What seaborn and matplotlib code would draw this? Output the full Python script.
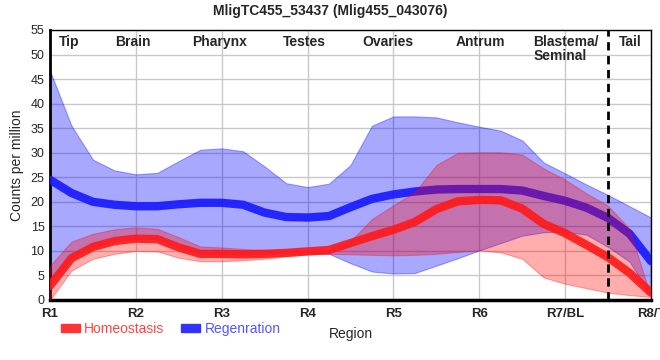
"""
Expression profile of MligTC455_53437 along the body regions,
homeostasis vs regeneration, mean line with min/max band.
"""

import matplotlib
matplotlib.use("Agg")
import matplotlib.pyplot as plt
import matplotlib.patches as mpatches
import numpy as np
import pandas as pd
import seaborn as sns

# Positions along the body (R1..R8 in quarter steps)
positions = [1.0, 1.25, 1.5, 1.75, 2.0, 2.25, 2.5, 2.75, 3.0, 3.25, 3.5, 3.75,
             4.0, 4.25, 4.5, 4.75, 5.0, 5.25, 5.5, 5.75, 6.0, 6.25, 6.5, 6.75,
             7.0, 7.25, 7.5, 7.75, 8.0]

homeo_mean = [2.9, 8.5, 10.8, 12.0, 12.5, 12.4, 10.7, 9.4, 9.4, 9.3, 9.4, 9.6,
              9.9, 10.2, 11.6, 13.0, 14.3, 15.9, 18.5, 20.1, 20.4, 20.3, 18.6, 15.5,
              13.6, 11.2, 8.7, 5.5, 1.5]
homeo_upper = [7.0, 11.9, 13.5, 14.4, 14.8, 14.5, 12.8, 10.9, 10.7, 10.4, 10.2, 10.1,
               10.1, 10.2, 12.0, 16.5, 19.3, 22.0, 27.5, 30.0, 30.1, 30.1, 29.6, 26.8,
               24.5, 21.7, 19.2, 14.5, 0.5]
homeo_lower = [0.0, 6.0, 8.4, 9.4, 10.0, 9.9, 8.6, 7.9, 7.9, 8.1, 8.4, 8.9,
               9.3, 9.4, 9.3, 9.2, 9.1, 9.2, 9.4, 9.8, 10.1, 9.7, 8.4, 4.6,
               3.3, 2.4, 1.5, 1.0, 0.6]

regen_mean = [24.5, 21.8, 20.0, 19.4, 19.1, 19.1, 19.5, 19.8, 19.8, 19.4, 17.8, 16.9,
              16.8, 17.1, 18.9, 20.6, 21.5, 22.1, 22.5, 22.6, 22.6, 22.6, 22.3, 21.2,
              20.2, 18.8, 16.7, 13.5, 7.9]
regen_upper = [46.7, 35.5, 28.6, 26.4, 25.6, 25.9, 28.3, 30.6, 30.9, 30.3, 27.2, 23.8,
               23.0, 23.7, 27.5, 35.5, 37.4, 37.4, 37.2, 36.2, 35.3, 34.5, 32.5, 28.0,
               25.8, 23.5, 21.4, 19.1, 16.8]
regen_lower = [3.5, 8.6, 10.8, 12.0, 12.5, 12.4, 10.7, 9.4, 9.4, 9.3, 9.4, 9.5,
               9.5, 9.4, 7.5, 5.8, 5.4, 5.5, 7.0, 8.5, 10.1, 11.6, 13.1, 13.8,
               13.9, 13.3, 10.8, 7.8, 0.9]

tick_labels = ["R1", "R2", "R3", "R4", "R5", "R6", "R7/BL", "R8/T"]
region_names = ["Tip", "Brain", "Pharynx", "Testes", "Ovaries", "Antrum",
                "Blastema/\nSeminal", "Tail"]
region_pos = [1.22, 1.97, 2.98, 3.96, 4.94, 6.01, 6.63, 7.76]

RED = "#ff1a1a"
BLUE = "#1a1aff"

sns.set_theme(style="white")
plt.rcParams["font.family"] = ["Liberation Sans", "DejaVu Sans"]

df = pd.DataFrame({
    "pos": positions * 2,
    "cpm": homeo_mean + regen_mean,
    "cond": ["Homeostasis"] * len(positions) + ["Regenration"] * len(positions),
})

fig = plt.figure(figsize=(6.6, 3.6), dpi=100)
ax = fig.add_axes([50 / 660, 60 / 360, 601 / 660, 270 / 360])

# regeneration band + line first, homeostasis on top
ax.fill_between(positions, regen_lower, regen_upper, color="blue", alpha=0.34,
                linewidth=0.8, edgecolor=(0, 0, 1, 0.3), zorder=2)
sns.lineplot(data=df[df.cond == "Regenration"], x="pos", y="cpm", color=BLUE,
             linewidth=6, alpha=0.92, ax=ax, zorder=3, legend=False)
ax.fill_between(positions, homeo_lower, homeo_upper, color="red", alpha=0.32,
                linewidth=0.8, edgecolor=(1, 0, 0, 0.3), zorder=4)
sns.lineplot(data=df[df.cond == "Homeostasis"], x="pos", y="cpm", color=RED,
             linewidth=6, alpha=0.92, ax=ax, zorder=5, legend=False)

ax.axvline(7.5, color="black", linestyle=(0, (3, 2)), linewidth=2, zorder=6)

ax.set_xlim(1, 8)
ax.set_ylim(0, 55)
ax.set_xticks(range(1, 9))
ax.set_xticklabels(tick_labels, fontsize=9.5, fontweight="bold")
ax.set_yticks(range(0, 56, 5))
ax.tick_params(axis="y", labelsize=9, length=3, width=1, color="black", pad=1)
ax.tick_params(axis="x", length=4, width=1, color="black", pad=2)
ax.grid(True, color="#c8c8c8", linewidth=1, zorder=0)
ax.set_axisbelow(True)

for side in ["top", "right"]:
    ax.spines[side].set_linewidth(1)
    ax.spines[side].set_color("black")
ax.spines["left"].set_linewidth(2)
ax.spines["left"].set_color("black")
ax.spines["bottom"].set_linewidth(2.5)
ax.spines["bottom"].set_color("black")

for name, pos in zip(region_names, region_pos):
    ha = "left" if "\n" in name else "center"
    ax.text(pos, 54, name, ha=ha, va="top", fontsize=10, fontweight="bold",
            linespacing=1.0, zorder=7)

ax.set_xlabel("Region", fontsize=10)
ax.xaxis.set_label_coords(0.5, -0.1)
ax.set_ylabel("Counts per million", fontsize=10)
ax.yaxis.set_label_coords(-0.043, 0.5)

fig.suptitle("MligTC455_53437 (Mlig455_043076)", fontsize=10, fontweight="bold",
             y=0.99)

handles = [mpatches.Patch(color="#ff3333"), mpatches.Patch(color="#3333ff")]
fig.legend(handles, ["Homeostasis", "Regenration"], loc="center left",
           bbox_to_anchor=(48 / 660, 1 - 329 / 360), ncol=2, frameon=False,
           fontsize=10, handlelength=1.4, handleheight=0.5, handletextpad=0.3,
           columnspacing=1.2, labelcolor=["#ff4444", "#5555ff"])

fig.savefig("out.png", dpi=100)
